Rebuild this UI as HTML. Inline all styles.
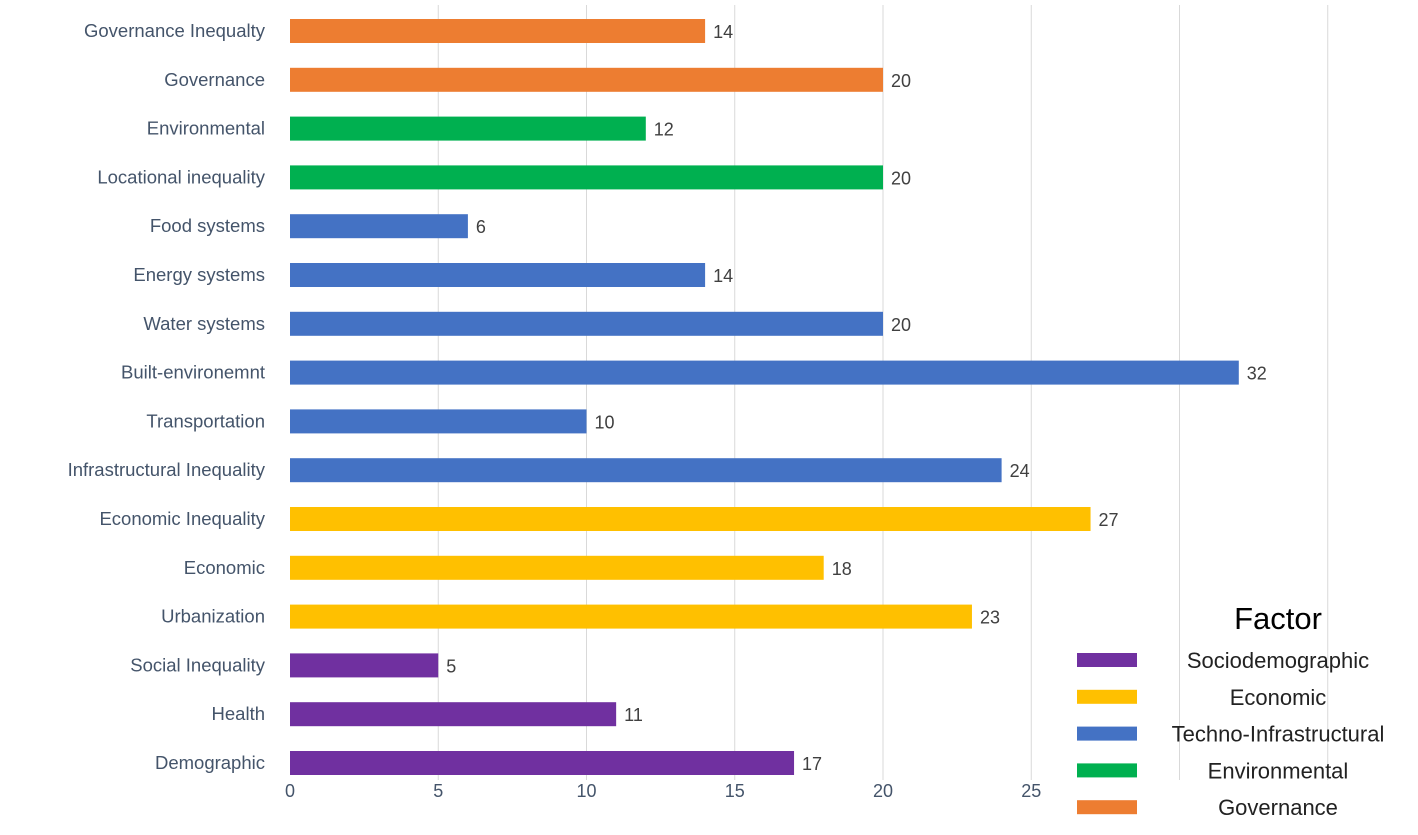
<!DOCTYPE html>
<html><head><meta charset="utf-8"><style>
body{margin:0;background:#fff;}
svg{display:block;font-family:"Liberation Sans",sans-serif;}
</style></head><body>
<svg id="c" width="1418" height="835"></svg>
<script>
const categories=["Governance Inequalty","Governance","Environmental","Locational inequality","Food systems","Energy systems","Water systems","Built-environemnt","Transportation","Infrastructural Inequality","Economic Inequality","Economic","Urbanization","Social Inequality","Health","Demographic"];
const values=[14,20,12,20,6,14,20,32,10,24,27,18,23,5,11,17];
const groups=[4,4,3,3,2,2,2,2,2,2,1,1,1,0,0,0];
const factorNames=["Sociodemographic","Economic","Techno-Infrastructural","Environmental","Governance"];
const factorColors=["#7030a0","#ffc000","#4472c4","#00b050","#ed7d31"];
const xTicks=[0,5,10,15,20,25];
const gridVals=[5,10,15,20,25,30,35];
const NS="http://www.w3.org/2000/svg";
const svg=document.getElementById('c');
const x=v=>290+v*29.65;
const y=i=>31+i*48.8;
function mk(t,a,p){const e=document.createElementNS(NS,t);for(const k in a)e.setAttribute(k,a[k]);(p||svg).appendChild(e);return e;}
gridVals.forEach(v=>{const l=mk('line',{x1:x(v),x2:x(v),y1:5,y2:780,stroke:'#d9d9d9','stroke-width':1});

});
xTicks.forEach(v=>{const t=mk('text',{x:x(v),y:797,'text-anchor':'middle','font-size':18,fill:'#44546a'});t.textContent=v;

});
categories.forEach((c,i)=>{
const cy=y(i);
const lab=mk('text',{x:265,y:cy+6,'text-anchor':'end','font-size':18.5,fill:'#44546a'});lab.textContent=c;


const r=mk('rect',{x:x(0),y:cy-12,width:x(values[i])-x(0),height:24,fill:factorColors[groups[i]]});


const v=mk('text',{x:x(values[i])+8,y:cy+7,'font-size':18,fill:'#404040'});v.textContent=values[i];


});
const lt=mk('text',{x:1278,y:629,'text-anchor':'middle','font-size':31,fill:'#000'});lt.textContent="Factor";


factorNames.forEach((n,i)=>{
const cy=660+i*36.8;
const s=mk('rect',{x:1077,y:cy-7,width:60,height:14,fill:factorColors[i]});


const t=mk('text',{x:1278,y:cy+8,'text-anchor':'middle','font-size':22,fill:'#222'});t.textContent=n;


});
</script>
</body></html>
